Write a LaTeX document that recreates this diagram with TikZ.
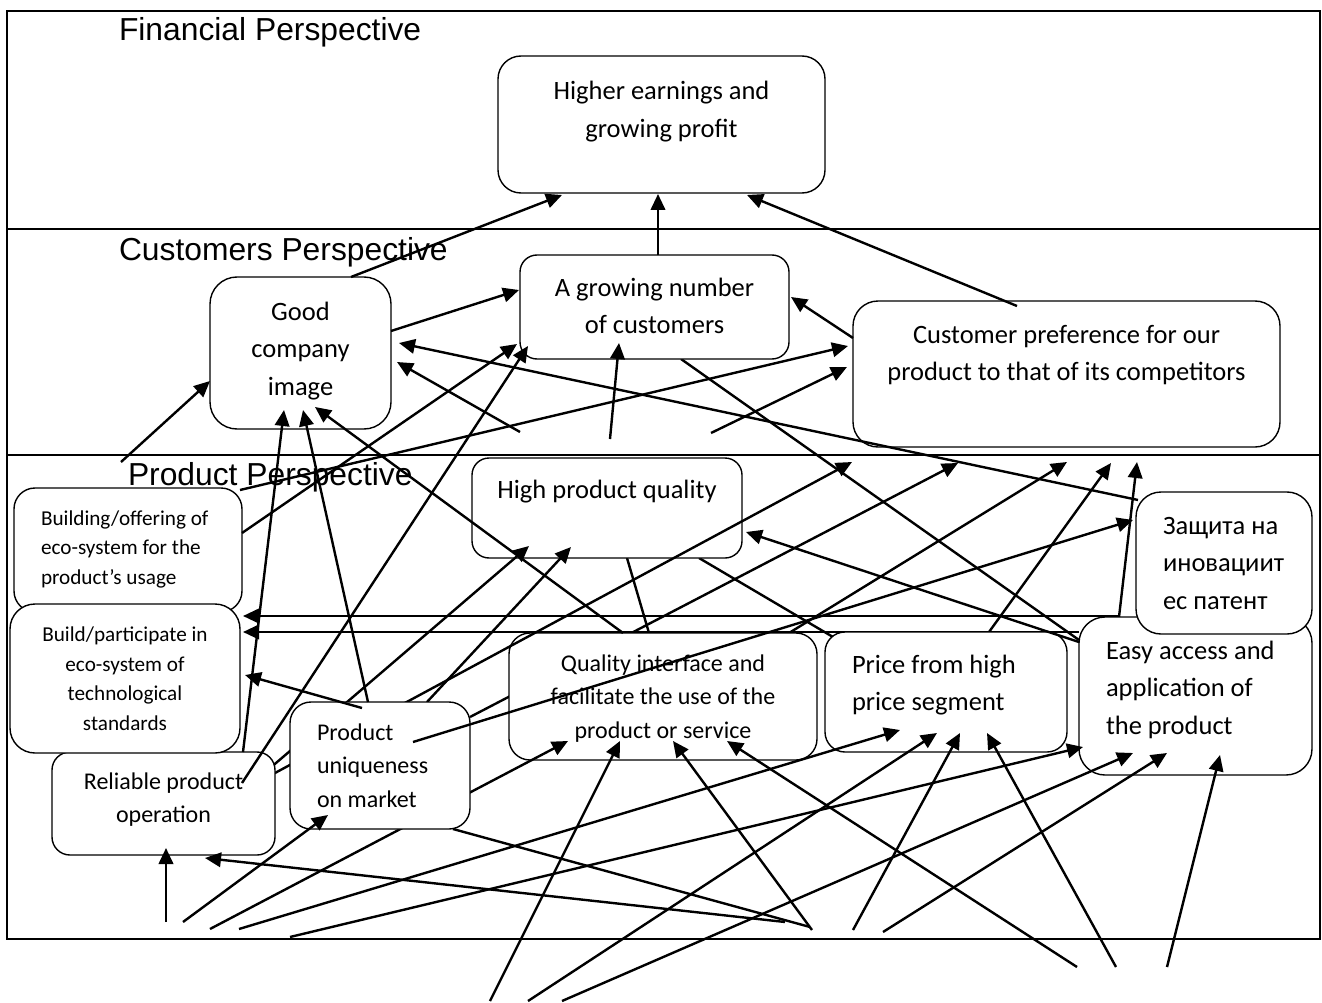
\documentclass[tikz,border=0pt]{standalone}
\usepackage{fontspec}
\usetikzlibrary{arrows.meta}
\newfontfamily\bodyfont{Carlito}
\newfontfamily\headfont{Liberation Sans}
\newcommand\headtxt{\headfont\fontsize{31.8}{38}\selectfont}
\newcommand\bigtxt{\bodyfont\fontsize{26.5}{37.5}\selectfont}
\newcommand\midtxt{\bodyfont\fontsize{24}{33.7}\selectfont}
\newcommand\smalltxt{\bodyfont\fontsize{21.2}{29.5}\selectfont}
\newcommand\CtrLines[1]{\begin{tabular}[t]{@{}c@{}}#1\end{tabular}}
\newcommand\LeftLines[1]{\begin{tabular}[t]{@{}l@{}}#1\end{tabular}}
\pgfdeclarelayer{back}
\pgfdeclarelayer{boxa}
\pgfdeclarelayer{mid}
\pgfdeclarelayer{boxb}
\pgfsetlayers{back,boxa,mid,boxb,main}
\begin{document}
\begin{tikzpicture}[x=1pt,y=-1pt,
  box/.style={draw, line width=1.4pt, fill=white, inner sep=0pt, outer sep=0pt},
  wire/.style={line width=2.4pt},
  arr/.style={wire, -{Triangle[length=16pt,width=14.5pt]}},
  lbl/.style={inner sep=0pt, outer sep=0pt, anchor=base},
  lbll/.style={inner sep=0pt, outer sep=0pt, anchor=base west},
  head/.style={inner sep=0pt, outer sep=0pt, anchor=base west, font=\headtxt},
]
\useasboundingbox (0,0) rectangle (1322,1003);

% free ends of the connectors
\coordinate (f6) at (121,462);
\coordinate (f7) at (520,432);
\coordinate (f8) at (610,439);
\coordinate (f9) at (711,433);
\coordinate (f33) at (166,922);
\coordinate (f34) at (183,922);
\coordinate (f35) at (210,929);
\coordinate (f36) at (239,929);
\coordinate (f37) at (290,937);
\coordinate (f38) at (785,922);
\coordinate (f39) at (810,927);
\coordinate (f40) at (812,930);
\coordinate (f41) at (853,930);
\coordinate (f42) at (883,932);
\coordinate (f43) at (490,1001);
\coordinate (f44) at (528,1001);
\coordinate (f45) at (562,1001);
\coordinate (f46) at (1077,967);
\coordinate (f47) at (1116,967);
\coordinate (f48) at (1167,967);

% boxes, lower tier
\begin{pgfonlayer}{boxa}
\node[box, minimum width=327pt, minimum height=137pt, rounded corners=23pt] (fin) at (661.5,124.5) {};
\node[box, minimum width=269pt, minimum height=104pt, rounded corners=17pt] (grow) at (654.5,307) {};
\node[box, minimum width=181pt, minimum height=152pt, rounded corners=27pt] (gci) at (300.5,353) {};
\node[box, minimum width=427pt, minimum height=146pt, rounded corners=25pt] (pref) at (1066.5,374) {};
\node[box, minimum width=270pt, minimum height=100pt, rounded corners=17pt] (qual) at (607,508) {};
\node[box, minimum width=233pt, minimum height=158pt, rounded corners=26pt] (easy) at (1195.5,696) {};
\node[box, minimum width=176pt, minimum height=142pt, rounded corners=25pt] (patent) at (1224,563) {};
\node[box, minimum width=242pt, minimum height=120pt, rounded corners=20pt] (price) at (946,692) {};
\node[box, minimum width=308pt, minimum height=127pt, rounded corners=21pt] (iface) at (663,696.5) {};
\end{pgfonlayer}

% boxes, upper tier
\begin{pgfonlayer}{boxb}
\node[box, minimum width=223pt, minimum height=103pt, rounded corners=18pt] (rel) at (163.5,803.5) {};
\node[box, minimum width=228pt, minimum height=124pt, rounded corners=21pt] (eco) at (128,550) {};
\node[box, minimum width=230pt, minimum height=149pt, rounded corners=25pt] (std) at (125,678.5) {};
\node[box, minimum width=180pt, minimum height=127pt, rounded corners=21pt] (uniq) at (380,765.5) {};
\end{pgfonlayer}

% frame, perspective titles and connectors running under the boxes
\begin{pgfonlayer}{back}
\draw[wire] (7,11) rectangle (1320,939);
\draw[wire] (7,229) -- (1320,229) (7,455) -- (1320,455);
\node[head] (t-fin) at (119,41) {Financial Perspective};
\node[head] (t-cust) at (119,260) {Customers Perspective};
\node[head] (t-prod) at (128,485) {Product Perspective};

\draw[wire] ([shift={(26.5,52)}]grow.center) -- ([shift={(-116.5,-56)}]easy.center);
\draw[arr] ([shift={(90,-48.5)}]uniq.center) -- ([shift={(-108.5,89)}]pref.center);
\draw[arr] ([shift={(126,-63.5)}]iface.center) -- ([shift={(0.5,88)}]pref.center);
\draw[arr] ([shift={(43,-60)}]price.center) -- ([shift={(44.5,89)}]pref.center);
\draw[arr] ([shift={(-76.5,-79)}]easy.center) -- ([shift={(70.5,88)}]pref.center);
\draw[arr] ([shift={(-76.5,-80)}]easy.center) -- ([shift={(115,66)}]eco.center);
\draw[arr] ([shift={(-116.5,-64)}]easy.center) -- ([shift={(118,-46.5)}]std.center);
\draw[wire] ([shift={(20,50)}]qual.center) -- ([shift={(-14,-63.5)}]iface.center);
\draw[wire] ([shift={(92,50)}]qual.center) -- ([shift={(-113,-55)}]price.center);
\end{pgfonlayer}

% connectors between the two tiers of boxes
\begin{pgfonlayer}{mid}
\draw[arr] ([shift={(98.5,-28.5)}]rel.center) -- ([shift={(-78,38)}]qual.center);
\draw[arr] ([shift={(98.5,-23.5)}]rel.center) -- ([shift={(-214.5,88)}]pref.center);
\draw[arr] (f35) -- ([shift={(-95,44.5)}]iface.center);
\draw[arr] ([shift={(47,-63.5)}]uniq.center) -- ([shift={(-36,39)}]qual.center);
\end{pgfonlayer}

% box texts
\node[lbl, font=\bigtxt] (fin-l) at (661.5,100) {\CtrLines{Higher earnings and\\growing profit}};
\node[lbl, font=\bigtxt] (grow-l) at (654.5,296) {\CtrLines{A growing number\\of customers}};
\node[lbl, font=\bigtxt] (gci-l) at (300.5,320) {\CtrLines{Good\\company\\image}};
\node[lbl, font=\bigtxt] (pref-l) at (1066.5,343) {\CtrLines{Customer preference for our\\product to that of its competitors}};
\node[lbl, font=\bigtxt] (qual-l) at (607,498) {High product quality};
\node[lbll, font=\smalltxt] (eco-l) at (41,525) {\LeftLines{Building/offering of\\eco-system for the\\product’s usage}};
\node[lbl, font=\smalltxt] (std-l) at (125,641.5) {\CtrLines{Build/participate in\\eco-system of\\technological\\standards}};
\node[lbl, font=\midtxt] (rel-l) at (163.5,789) {\CtrLines{Reliable product\\operation}};
\node[lbll, font=\midtxt] (uniq-l) at (317,740) {\LeftLines{Product\\uniqueness\\on market}};
\node[lbl, font=\midtxt] (iface-l) at (663,671) {\CtrLines{Quality interface and\\facilitate the use of the\\product or service}};
\node[lbll, font=\bigtxt] (price-l) at (852,673) {\LeftLines{Price from high\\price segment}};
\node[lbll, font=\bigtxt] (easy-l) at (1106,659) {\LeftLines{Easy access and\\application of\\the product}};
\node[lbll, font=\bigtxt] (patent-l) at (1163,534) {\LeftLines{Защита на\\иновациит\\ес патент}};

% connectors drawn over the boxes
\draw[arr] ([shift={(50.5,-76)}]gci.center) -- ([shift={(-99.5,70.5)}]fin.center);
\draw[arr] ([shift={(3.5,-52)}]grow.center) -- ([shift={(-3.5,69.5)}]fin.center);
\draw[arr] ([shift={(-49.5,-68)}]pref.center) -- ([shift={(85.5,70.5)}]fin.center);
\draw[arr] ([shift={(90.5,-22)}]gci.center) -- ([shift={(-135.5,-17)}]grow.center);
\draw[arr] ([shift={(-213.5,-36)}]pref.center) -- ([shift={(136.5,-10)}]grow.center);
\draw[arr] (f6) -- ([shift={(-90.5,28)}]gci.center);
\draw[arr] (f7) -- ([shift={(96.5,9)}]gci.center);
\draw[arr] (f8) -- ([shift={(-35.5,36)}]grow.center);
\draw[arr] (f9) -- ([shift={(-219.5,-7)}]pref.center);
\draw[arr] ([shift={(114,-17)}]eco.center) -- ([shift={(-137.5,37)}]grow.center);
\draw[arr] ([shift={(112,-60)}]eco.center) -- ([shift={(-218.5,-28)}]pref.center);
\draw[arr] ([shift={(78.5,-20.5)}]rel.center) -- ([shift={(-126.5,39)}]grow.center);
\draw[arr] ([shift={(79.5,-51.5)}]rel.center) -- ([shift={(-16.5,57)}]gci.center);
\draw[arr] ([shift={(-12,-63.5)}]uniq.center) -- ([shift={(2.5,57)}]gci.center);
\draw[arr] ([shift={(-40,-63.5)}]iface.center) -- ([shift={(14.5,54)}]gci.center);
\draw[arr] ([shift={(-86,-63)}]patent.center) -- ([shift={(98.5,-10)}]gci.center);
\draw[arr] ([shift={(-18,-57.5)}]uniq.center) -- ([shift={(120,-3.5)}]std.center);
\draw[arr] ([shift={(33,-23.5)}]uniq.center) -- ([shift={(-91,-43)}]patent.center);
\draw[arr] ([shift={(-116.5,-54)}]easy.center) -- ([shift={(139,24)}]qual.center);
\draw[arr] (f33) -- ([shift={(2.5,44.5)}]rel.center);
\draw[arr] (f34) -- ([shift={(-52,49.5)}]uniq.center);
\draw[arr] (f36) -- ([shift={(-46,38)}]price.center);
\draw[arr] (f37) -- ([shift={(-112.5,51)}]easy.center);
\draw[arr] (f38) -- ([shift={(41.5,54.5)}]rel.center);
\draw[wire] ([shift={(73,63.5)}]uniq.center) -- (f39);
\draw[arr] (f40) -- ([shift={(10,44.5)}]iface.center);
\draw[arr] (f41) -- ([shift={(14,41)}]price.center);
\draw[arr] (f42) -- ([shift={(-28.5,57)}]easy.center);
\draw[arr] (f43) -- ([shift={(-43,44.5)}]iface.center);
\draw[arr] (f44) -- ([shift={(-9,41)}]price.center);
\draw[arr] (f45) -- ([shift={(-62.5,57)}]easy.center);
\draw[arr] (f46) -- ([shift={(64,44.5)}]iface.center);
\draw[arr] (f47) -- ([shift={(41,41)}]price.center);
\draw[arr] (f48) -- ([shift={(24.5,59)}]easy.center);
\end{tikzpicture}
\end{document}
